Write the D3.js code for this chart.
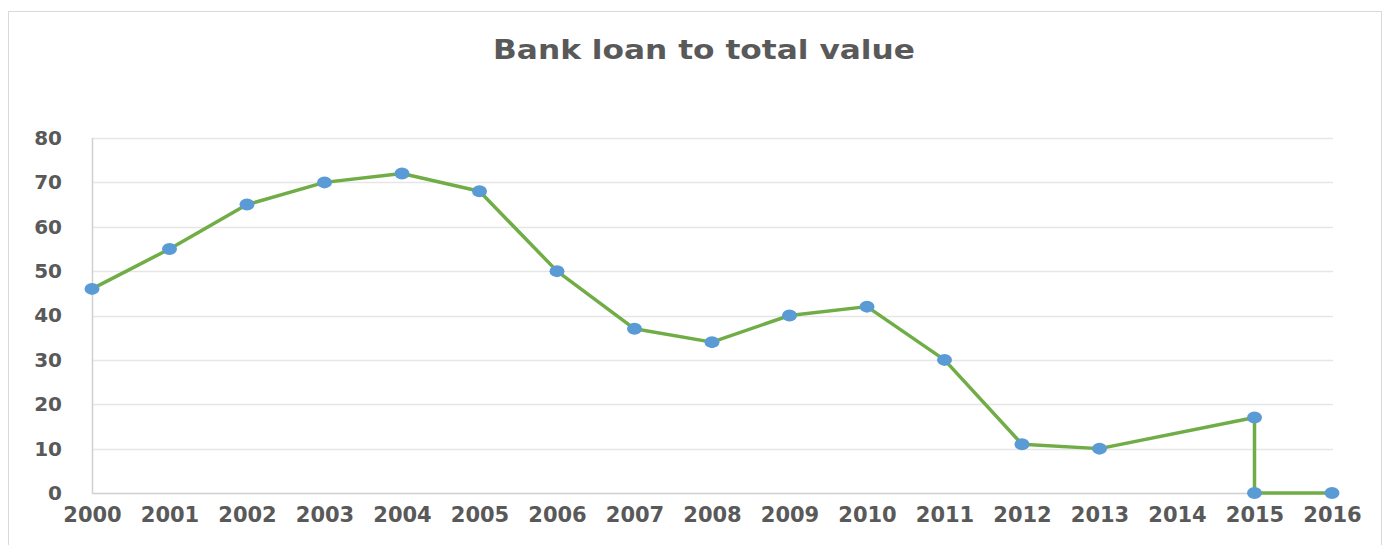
<!DOCTYPE html>
<html>
<head>
<meta charset="utf-8">
<script src="https://cdn.jsdelivr.net/npm/d3@7"></script>
<style>
  html, body { margin: 0; padding: 0; background: #fff; }
  svg { display: block; }
</style>
</head>
<body>
<div id="chart"></div>
<script>
var width = 1389;
var height = 545;

// data (2014 has no point, 2015 appears twice)
var years = [2000, 2001, 2002, 2003, 2004, 2005, 2006, 2007, 2008, 2009, 2010, 2011, 2012, 2013, 2015, 2015, 2016];
var values = [46, 55, 65, 70, 72, 68, 50, 37, 34, 40, 42, 30, 11, 10, 17, 0, 0];
var xTicks = d3.range(2000, 2017);
var yTicks = [0, 10, 20, 30, 40, 50, 60, 70, 80];
var title = "Bank loan to total value";

var svg = d3.select("#chart")
  .append("svg")
  .attr("width", width)
  .attr("height", height);

// chart frame
svg.append("rect")
  .attr("x", 8.5).attr("y", 11.5)
  .attr("width", 1373).attr("height", 560)
  .attr("fill", "#fff")
  .attr("stroke", "#d9d9d9");

var plot = { left: 92, right: 1332, top: 138, bottom: 493 };

var x = d3.scaleLinear()
  .domain([2000, 2016])
  .range([plot.left, plot.right]);

var y = d3.scaleLinear()
  .domain([0, 80])
  .range([plot.bottom, plot.top]);

// title
svg.append("text")
  .attr("x", 704)
  .attr("y", 59)
  .attr("text-anchor", "middle")
  .attr("textLength", 422)
  .attr("lengthAdjust", "spacingAndGlyphs")
  .style("font-family", "DejaVu Sans")
  .style("font-weight", "bold")
  .style("font-size", "26px")
  .style("fill", "#595959")
  .text(title);

// gridlines
svg.append("g")
  .selectAll("line")
  .data(yTicks)
  .enter().append("line")
  .attr("x1", plot.left).attr("x2", plot.right + 1)
  .attr("y1", function(d) { return Math.round(y(d)) + 0.5; })
  .attr("y2", function(d) { return Math.round(y(d)) + 0.5; })
  .attr("stroke", function(d) { return d === 0 ? "#d0d0d0" : "#e6e6e6"; })
  .attr("stroke-width", 1.5);

// left axis line
svg.append("line")
  .attr("x1", plot.left + 0.5).attr("x2", plot.left + 0.5)
  .attr("y1", y(80)).attr("y2", y(0))
  .attr("stroke", "#d0d0d0")
  .attr("stroke-width", 1.5);

// y axis labels
var yAxis = d3.axisLeft(y)
  .tickValues(yTicks)
  .tickSize(0)
  .tickPadding(30);

svg.append("g")
  .attr("transform", "translate(" + plot.left + ",0)")
  .call(yAxis)
  .call(function(g) { g.select(".domain").remove(); })
  .selectAll("text")
  .style("font-family", "DejaVu Sans")
  .style("font-weight", "bold")
  .style("font-size", "20px")
  .style("fill", "#595959");

// x axis labels
var xAxis = d3.axisBottom(x)
  .tickValues(xTicks)
  .tickFormat(d3.format("d"))
  .tickSize(0)
  .tickPadding(14);

svg.append("g")
  .attr("transform", "translate(0," + plot.bottom + ")")
  .call(xAxis)
  .call(function(g) { g.select(".domain").remove(); })
  .selectAll("text")
  .style("font-family", "DejaVu Sans")
  .style("font-weight", "bold")
  .style("font-size", "21px")
  .style("fill", "#595959");

var points = years.map(function(d, i) { return [d, values[i]]; });

var line = d3.line()
  .x(function(d) { return x(d[0]); })
  .y(function(d) { return y(d[1]); });

svg.append("path")
  .datum(points)
  .attr("d", line)
  .attr("fill", "none")
  .attr("stroke", "#70ad47")
  .attr("stroke-width", 3.5)
  .attr("stroke-linejoin", "round");

svg.append("g")
  .selectAll("ellipse")
  .data(points)
  .enter().append("ellipse")
  .attr("cx", function(d) { return x(d[0]); })
  .attr("cy", function(d) { return y(d[1]); })
  .attr("rx", 7.5)
  .attr("ry", 6)
  .attr("fill", "#5b9bd5");
</script>
</body>
</html>
